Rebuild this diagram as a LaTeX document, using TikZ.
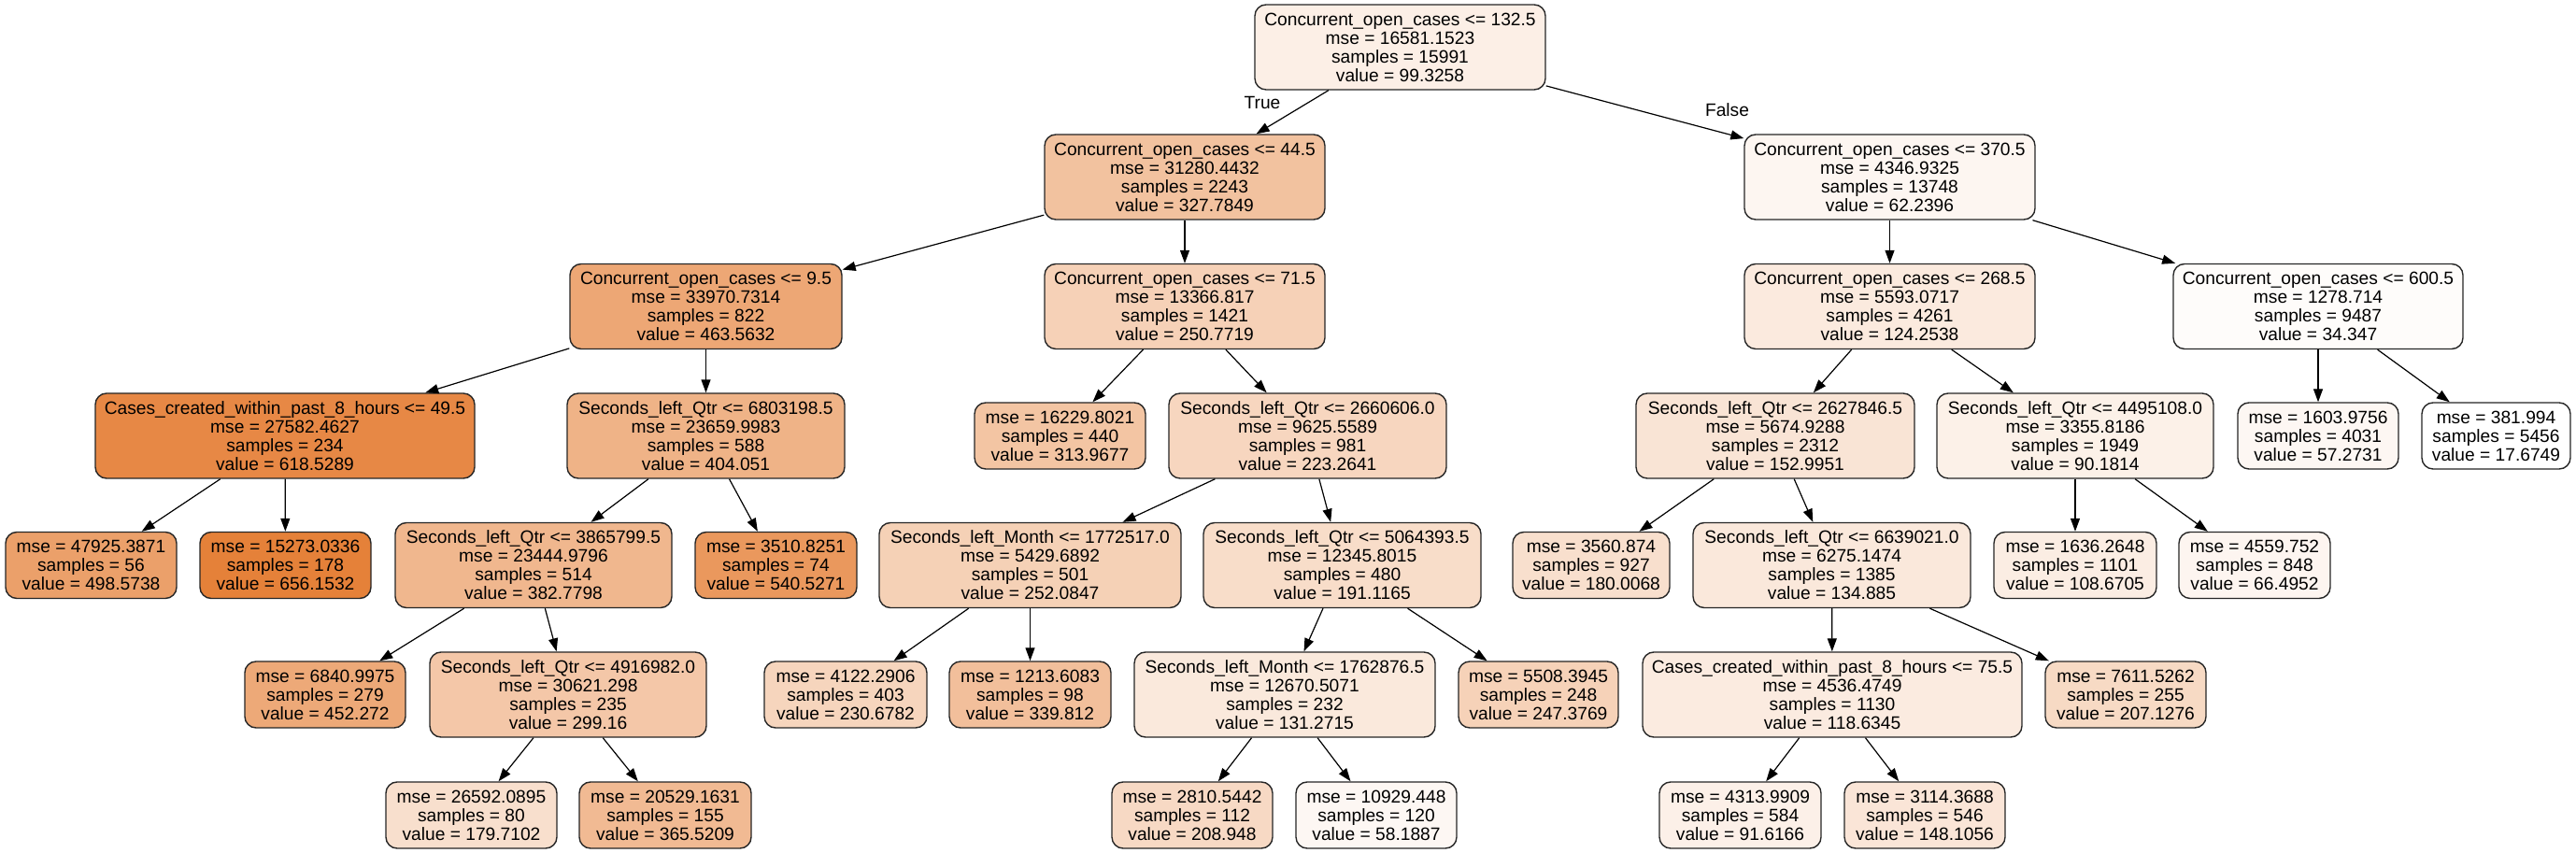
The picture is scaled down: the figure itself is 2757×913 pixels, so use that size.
\documentclass[tikz,border=0pt]{standalone}
\usepackage{fontspec}
\setmainfont{Liberation Sans}
\usetikzlibrary{arrows.meta}
\definecolor{gvo}{RGB}{229,129,57}
\newcommand{\gvfont}{\fontsize{9.6}{10}\selectfont}
\tikzset{
  box/.style={draw=black!85, line width=0.7pt, rounded corners=6pt, align=center,
    inner sep=0pt, minimum height=45.5pt, font=\gvfont},
  leaf/.style={box, minimum height=35.5pt},
  edge/.style={-{Triangle[length=7pt,width=5pt]}, line width=0.6pt},
  elabel/.style={font=\gvfont, inner sep=0pt}
}
\begin{document}
\begin{tikzpicture}[x=0.5pt,y=-0.5pt]
\useasboundingbox[fill=white] (0,0) rectangle (2757,913);

% level 0
\node[box, minimum width=155.5pt, fill=gvo!12.8!white] (n0) at (1498.5,50.5)
  {Concurrent\_open\_cases <= 132.5\\mse = 16581.1523\\samples = 15991\\value = 99.3258};

% level 1
\node[box, minimum width=150pt, fill=gvo!48.6!white] (n1) at (1268,189.5)
  {Concurrent\_open\_cases <= 44.5\\mse = 31280.4432\\samples = 2243\\value = 327.7849};
\node[box, minimum width=155.5pt, fill=gvo!7.0!white] (n16) at (2022.5,189.5)
  {Concurrent\_open\_cases <= 370.5\\mse = 4346.9325\\samples = 13748\\value = 62.2396};

% level 2
\node[box, minimum width=145.5pt, fill=gvo!69.8!white] (n2) at (755.5,328)
  {Concurrent\_open\_cases <= 9.5\\mse = 33970.7314\\samples = 822\\value = 463.5632};
\node[box, minimum width=150pt, fill=gvo!36.5!white] (n9) at (1268,328)
  {Concurrent\_open\_cases <= 71.5\\mse = 13366.817\\samples = 1421\\value = 250.7719};
\node[box, minimum width=155.5pt, fill=gvo!16.7!white] (n17) at (2022.5,328)
  {Concurrent\_open\_cases <= 268.5\\mse = 5593.0717\\samples = 4261\\value = 124.2538};
\node[box, minimum width=155pt, fill=gvo!2.6!white] (n24) at (2481,328)
  {Concurrent\_open\_cases <= 600.5\\mse = 1278.714\\samples = 9487\\value = 34.347};

% level 3
\node[box, minimum width=203pt, fill=gvo!94.1!white] (n3) at (305,466.5)
  {Cases\_created\_within\_past\_8\_hours <= 49.5\\mse = 27582.4627\\samples = 234\\value = 618.5289};
\node[box, minimum width=148.5pt, fill=gvo!60.5!white] (n6) at (755.5,466.5)
  {Seconds\_left\_Qtr <= 6803198.5\\mse = 23659.9983\\samples = 588\\value = 404.051};
\node[leaf, minimum width=91.5pt, fill=gvo!46.4!white] (n10) at (1134.5,466.5)
  {mse = 16229.8021\\samples = 440\\value = 313.9677};
\node[box, minimum width=148.5pt, fill=gvo!32.2!white] (n11) at (1399.5,466.5)
  {Seconds\_left\_Qtr <= 2660606.0\\mse = 9625.5589\\samples = 981\\value = 223.2641};
\node[box, minimum width=149pt, fill=gvo!21.2!white] (n18) at (1900,466.5)
  {Seconds\_left\_Qtr <= 2627846.5\\mse = 5674.9288\\samples = 2312\\value = 152.9951};
\node[box, minimum width=148pt, fill=gvo!11.4!white] (n21) at (2221,466.5)
  {Seconds\_left\_Qtr <= 4495108.0\\mse = 3355.8186\\samples = 1949\\value = 90.1814};
\node[leaf, minimum width=86pt, fill=gvo!6.2!white] (n25) at (2481,466.5)
  {mse = 1603.9756\\samples = 4031\\value = 57.2731};
\node[leaf, minimum width=79.5pt, fill=white] (n26) at (2671.5,466.5)
  {mse = 381.994\\samples = 5456\\value = 17.6749};

% level 4
\node[leaf, minimum width=91.5pt, fill=gvo!75.3!white] (n4) at (97.5,605)
  {mse = 47925.3871\\samples = 56\\value = 498.5738};
\node[leaf, minimum width=91.5pt, fill=gvo] (n5) at (305.5,605)
  {mse = 15273.0336\\samples = 178\\value = 656.1532};
\node[box, minimum width=148pt, fill=gvo!57.2!white] (n7) at (571,605)
  {Seconds\_left\_Qtr <= 3865799.5\\mse = 23444.9796\\samples = 514\\value = 382.7798};
\node[leaf, minimum width=86.5pt, fill=gvo!81.9!white] (n8) at (830.5,605)
  {mse = 3510.8251\\samples = 74\\value = 540.5271};
\node[box, minimum width=161.5pt, fill=gvo!36.7!white] (n12) at (1102.5,605)
  {Seconds\_left\_Month <= 1772517.0\\mse = 5429.6892\\samples = 501\\value = 252.0847};
\node[box, minimum width=148.5pt, fill=gvo!27.2!white] (n15) at (1436.5,605)
  {Seconds\_left\_Qtr <= 5064393.5\\mse = 12345.8015\\samples = 480\\value = 191.1165};
\node[leaf, minimum width=84pt, fill=gvo!25.4!white] (n19) at (1703,605)
  {mse = 3560.874\\samples = 927\\value = 180.0068};
\node[box, minimum width=148.5pt, fill=gvo!18.4!white] (n20) at (1960.5,605)
  {Seconds\_left\_Qtr <= 6639021.0\\mse = 6275.1474\\samples = 1385\\value = 134.885};
\node[leaf, minimum width=87pt, fill=gvo!14.3!white] (n22) at (2221,605)
  {mse = 1636.2648\\samples = 1101\\value = 108.6705};
\node[leaf, minimum width=81pt, fill=gvo!7.6!white] (n23) at (2413,605)
  {mse = 4559.752\\samples = 848\\value = 66.4952};

% level 5
\node[leaf, minimum width=86pt, fill=gvo!68.1!white] (n7a) at (348,743.5)
  {mse = 6840.9975\\samples = 279\\value = 452.272};
\node[box, minimum width=148pt, fill=gvo!44.1!white] (n7b) at (608,743.5)
  {Seconds\_left\_Qtr <= 4916982.0\\mse = 30621.298\\samples = 235\\value = 299.16};
\node[leaf, minimum width=87pt, fill=gvo!33.4!white] (n12a) at (905,743.5)
  {mse = 4122.2906\\samples = 403\\value = 230.6782};
\node[leaf, minimum width=86.5pt, fill=gvo!50.5!white] (n12b) at (1102.5,743.5)
  {mse = 1213.6083\\samples = 98\\value = 339.812};
\node[box, minimum width=161pt, fill=gvo!17.8!white] (n15a) at (1375,743.5)
  {Seconds\_left\_Month <= 1762876.5\\mse = 12670.5071\\samples = 232\\value = 131.2715};
\node[leaf, minimum width=85.5pt, fill=gvo!36.0!white] (n15b) at (1646.5,743.5)
  {mse = 5508.3945\\samples = 248\\value = 247.3769};
\node[box, minimum width=203pt, fill=gvo!15.8!white] (n20a) at (1961,743.5)
  {Cases\_created\_within\_past\_8\_hours <= 75.5\\mse = 4536.4749\\samples = 1130\\value = 118.6345};
\node[leaf, minimum width=86pt, fill=gvo!29.7!white] (n20b) at (2275,743.5)
  {mse = 7611.5262\\samples = 255\\value = 207.1276};

% level 6
\node[leaf, minimum width=91.5pt, fill=gvo!25.4!white] (n7ba) at (504.5,872.5)
  {mse = 26592.0895\\samples = 80\\value = 179.7102};
\node[leaf, minimum width=92pt, fill=gvo!54.5!white] (n7bb) at (712,872.5)
  {mse = 20529.1631\\samples = 155\\value = 365.5209};
\node[leaf, minimum width=86pt, fill=gvo!30.0!white] (n15aa) at (1276,872.5)
  {mse = 2810.5442\\samples = 112\\value = 208.948};
\node[leaf, minimum width=86pt, fill=gvo!6.3!white] (n15ab) at (1473,872.5)
  {mse = 10929.448\\samples = 120\\value = 58.1887};
\node[leaf, minimum width=86.5pt, fill=gvo!11.6!white] (n20aa) at (1862.5,872.5)
  {mse = 4313.9909\\samples = 584\\value = 91.6166};
\node[leaf, minimum width=86pt, fill=gvo!20.4!white] (n20ab) at (2060,872.5)
  {mse = 3114.3688\\samples = 546\\value = 148.1056};

% edge labels
\node[elabel] (ltrue) at (1351,110) {True};
\node[elabel] (lfalse) at (1848.5,118) {False};

% edges
\foreach \a/\b in {n0/n1, n0/n16, n1/n2, n1/n9, n2/n3, n2/n6, n3/n4, n3/n5,
  n6/n7, n6/n8, n7/n7a, n7/n7b, n7b/n7ba, n7b/n7bb, n9/n10, n9/n11,
  n11/n12, n11/n15, n12/n12a, n12/n12b, n15/n15a, n15/n15b, n15a/n15aa, n15a/n15ab,
  n16/n17, n16/n24, n17/n18, n17/n21, n18/n19, n18/n20, n20/n20a, n20/n20b,
  n20a/n20aa, n20a/n20ab, n21/n22, n21/n23, n24/n25, n24/n26}
  \draw[edge] (\a) -- (\b);
\end{tikzpicture}
\end{document}
